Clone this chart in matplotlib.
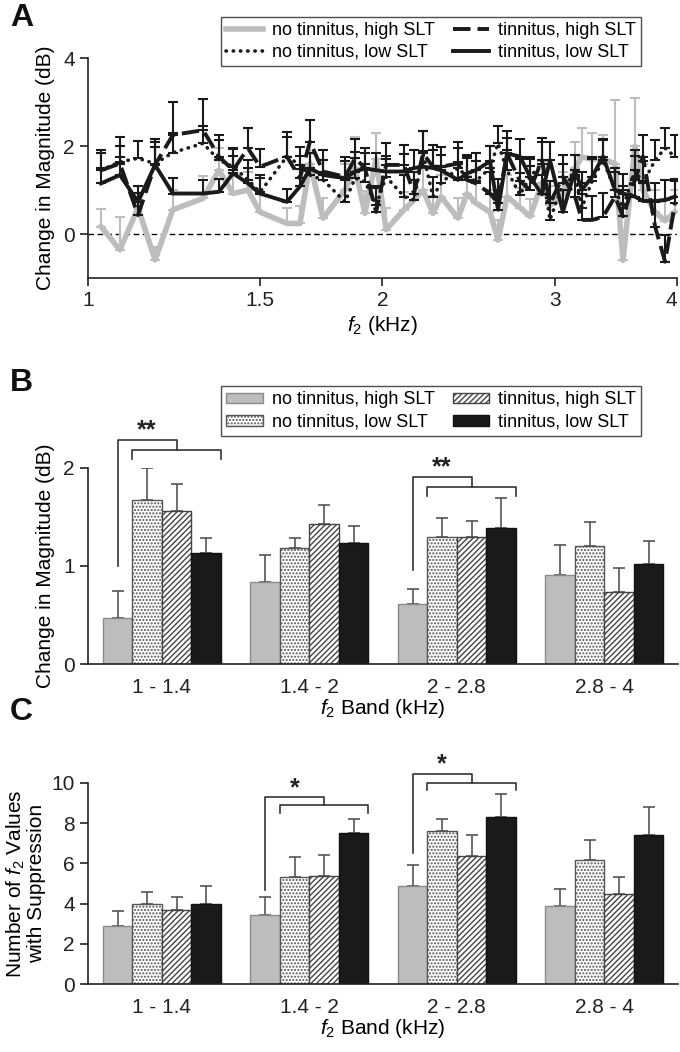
import numpy as np
import matplotlib
matplotlib.use("Agg")
import matplotlib.pyplot as plt
from matplotlib.patches import Patch
from matplotlib.lines import Line2D

plt.rcParams['font.family'] = ['Liberation Sans', 'DejaVu Sans']
plt.rcParams['mathtext.fontset'] = 'custom'
plt.rcParams['mathtext.rm'] = 'Liberation Sans'
plt.rcParams['mathtext.it'] = 'Liberation Sans:italic'
plt.rcParams['hatch.linewidth'] = 1.0

# ---------------- Panel A data ----------------
f2_khz = [1.031, 1.078, 1.125, 1.171, 1.221, 1.311, 1.361, 1.407, 1.457, 1.499,
          1.597, 1.647, 1.686, 1.739, 1.831, 1.875, 1.919, 1.970, 2.017, 2.104,
          2.154, 2.200, 2.252, 2.295, 2.389, 2.440, 2.492, 2.576, 2.625, 2.681,
          2.764, 2.830, 2.911, 2.966, 3.058, 3.146, 3.198, 3.275, 3.361, 3.457,
          3.523, 3.623, 3.692, 3.799, 3.889, 3.981]

nt_high = [0.17, -0.36, 0.6, -0.59, 0.55, 0.81, 1.45, 0.92, 1.0, 0.5,
           0.24, 0.24, 1.6, 0.36, 1.0, 1.5, 0.47, 1.7, 0.1, 0.55,
           0.77, 1.0, 0.47, 0.85, 0.36, 0.92, 0.7, 0.5, -0.14, 0.85,
           0.6, 0.4, 1.15, 0.65, 0.9, 1.5, 1.75, 1.7, 1.7, 1.6,
           -0.6, 2.0, 1.0, 0.5, 0.3, 0.5]
nt_high_err = [0.4, 0.75, 0.5, 0.3, 0.45, 0.5, 0.5, 0.45, 0.4, 0.45,
               0.35, 0.4, 1.0, 0.45, 0.6, 0.7, 0.5, 0.6, 0.5, 0.4,
               0.45, 0.5, 0.4, 0.5, 0.45, 0.4, 0.5, 0.5, 0.45, 0.5,
               0.45, 0.4, 0.5, 0.45, 0.5, 0.6, 0.65, 0.6, 0.55, 1.45,
               0.5, 1.1, 0.6, 0.5, 0.5, 0.5]

nt_low = [1.45, 1.64, 1.72, 1.6, 1.85, 2.06, 1.68, 1.53, 1.23, 0.95,
          1.76, 1.57, 1.34, 1.23, 0.73, 1.27, 1.19, 0.65, 1.3, 0.85,
          0.77, 1.83, 0.85, 1.15, 1.5, 1.3, 1.2, 1.5, 2.06, 1.45,
          0.89, 1.3, 1.6, 0.32, 1.15, 1.3, 0.6, 1.2, 1.68, 1.0,
          0.6, 1.45, 1.15, 1.68, 1.95, 1.76]
nt_low_err = [0.4, 0.35, 0.4, 0.5, 0.45, 0.4, 0.45, 0.4, 0.45, 0.4,
              0.45, 0.4, 0.5, 0.45, 0.5, 0.45, 0.4, 0.45, 0.4, 0.5,
              0.45, 0.5, 0.45, 0.4, 0.45, 0.5, 0.45, 0.5, 0.4, 0.45,
              0.5, 0.45, 0.5, 0.5, 0.45, 0.5, 0.55, 0.5, 0.45, 0.5,
              0.5, 0.45, 0.5, 0.45, 0.45, 0.5]

t_high = [1.45, 1.6, 0.43, 1.57, 2.25, 2.36, 1.76, 1.45, 1.95, 1.53,
          1.76, 1.27, 2.1, 1.42, 1.3, 1.72, 1.5, 0.5, 1.57, 1.57,
          0.92, 1.83, 1.53, 1.53, 1.6, 1.23, 1.15, 0.92, 0.7, 1.83,
          1.2, 1.0, 1.68, 0.7, 1.3, 0.85, 0.32, 0.32, 0.39, 0.85,
          0.4, 1.23, 1.76, 0.17, -0.63, 0.7]
t_high_err = [0.45, 0.6, 0.5, 0.6, 0.75, 0.7, 0.5, 0.5, 0.45, 0.4,
              0.55, 0.5, 0.5, 0.5, 0.45, 0.45, 0.45, 0.55, 0.5, 0.45,
              0.5, 0.5, 0.5, 0.45, 0.5, 0.55, 0.5, 0.5, 0.55, 0.5,
              0.5, 0.55, 0.5, 0.5, 0.5, 0.5, 0.6, 0.55, 0.55, 0.55,
              0.6, 0.55, 0.5, 0.55, 0.6, 0.5]

t_low = [1.15, 1.34, 0.73, 1.57, 0.92, 0.92, 0.96, 1.38, 1.15, 0.92,
         0.73, 1.08, 1.49, 1.34, 1.27, 1.42, 1.49, 1.45, 1.42, 1.42,
         1.5, 1.53, 1.5, 1.45, 1.23, 1.38, 1.45, 1.65, 0.55, 1.83,
         1.76, 1.3, 0.9, 1.68, 0.5, 1.45, 1.0, 1.3, 1.76, 1.0,
         0.92, 0.85, 0.75, 0.75, 0.77, 0.85]
t_low_err = [0.35, 0.4, 0.35, 0.4, 0.35, 0.3, 0.3, 0.4, 0.35, 0.35,
             0.3, 0.4, 0.35, 0.35, 0.4, 0.45, 0.35, 0.4, 0.35, 0.4,
             0.4, 0.35, 0.4, 0.35, 0.4, 0.35, 0.4, 0.35, 0.45, 0.35,
             0.4, 0.4, 0.45, 0.4, 0.5, 0.35, 0.4, 0.45, 0.4, 0.5,
             0.45, 0.4, 0.45, 0.4, 0.45, 0.4]

a_xticks = [1, 1.5, 2, 3, 4]
a_xticklabels = ['1', '1.5', '2', '3', '4']

# ---------------- Panel B / C data ----------------
bands = ['1 - 1.4', '1.4 - 2', '2 - 2.8', '2.8 - 4']
group_labels = ['no tinnitus, high SLT', 'no tinnitus, low SLT',
                'tinnitus, high SLT', 'tinnitus, low SLT']

b_nt_high = [0.47, 0.84, 0.61, 0.91]
b_nt_high_err = [0.28, 0.27, 0.16, 0.30]
b_nt_low = [1.675, 1.18, 1.30, 1.20]
b_nt_low_err = [0.32, 0.11, 0.19, 0.25]
b_t_high = [1.56, 1.43, 1.30, 0.73]
b_t_high_err = [0.28, 0.19, 0.16, 0.25]
b_t_low = [1.13, 1.23, 1.39, 1.02]
b_t_low_err = [0.16, 0.18, 0.30, 0.24]

c_nt_high = [2.89, 3.43, 4.88, 3.88]
c_nt_high_err = [0.74, 0.90, 1.04, 0.85]
c_nt_low = [3.98, 5.32, 7.61, 6.17]
c_nt_low_err = [0.60, 1.00, 0.60, 0.99]
c_t_high = [3.68, 5.37, 6.37, 4.48]
c_t_high_err = [0.65, 1.05, 1.04, 0.84]
c_t_low = [3.98, 7.51, 8.31, 7.41]
c_t_low_err = [0.90, 0.70, 1.14, 1.40]

W, H = 680, 1052
fig = plt.figure(figsize=(W / 100, H / 100), dpi=100)


def ax_rect(left, top, right, bottom):
    return [left / W, 1 - bottom / H, (right - left) / W, (bottom - top) / H]


FS_TICK = 15
FS_LAB = 15
FS_LEG = 13
EDGE = '#3a3a3a'


def style_axes(ax):
    ax.spines['top'].set_visible(False)
    ax.spines['right'].set_visible(False)
    for s in ('left', 'bottom'):
        ax.spines[s].set_linewidth(1.2)
        ax.spines[s].set_color('#222222')
    ax.tick_params(direction='out', length=6, width=1.2, labelsize=FS_TICK,
                   colors='#222222', labelcolor='#222222')


# ================= Panel A =================
axA = fig.add_axes(ax_rect(88, 58, 677, 278))
style_axes(axA)
axA.set_xscale('log')
axA.set_xlim(1, 4)
axA.set_ylim(-1, 4)
axA.set_xticks(a_xticks)
axA.set_xticklabels(a_xticklabels)
axA.xaxis.set_minor_locator(matplotlib.ticker.NullLocator())
axA.get_xticklabels()[-1].set_horizontalalignment('right')
axA.set_yticks([0, 2, 4])
axA.axhline(0, color='black', lw=1.0, ls=(0, (4, 2.5)), zorder=1)

f = np.array(f2_khz)
series = [
    (nt_high, nt_high_err, dict(color='#bdbdbd', lw=4.0, ls='-'), '#bdbdbd', 2),
    (nt_low, nt_low_err, dict(color='#1a1a1a', lw=2.6, ls=(0, (0.1, 1.9)),
                              dash_capstyle='round'), '#1a1a1a', 3),
    (t_high, t_high_err, dict(color='#1a1a1a', lw=2.8, ls=(0, (4.5, 1.8))), '#1a1a1a', 4),
    (t_low, t_low_err, dict(color='#1a1a1a', lw=2.8, ls='-'), '#1a1a1a', 5),
]
for vals, errs, kw, ecol, z in series:
    v = np.array(vals)
    e = np.array(errs)
    axA.errorbar(f, v, yerr=[np.zeros_like(e), e], fmt='none', ecolor=ecol,
                 elinewidth=1.5, capsize=3.5, capthick=1.5, zorder=z)
    axA.plot(f, v, zorder=z + 0.5, **kw)

axA.set_xlabel('$f_2$ (kHz)', fontsize=FS_LAB, labelpad=3)
axA.set_ylabel('Change in Magnitude (dB)', fontsize=FS_LAB, labelpad=6)

legA_handles = [
    Line2D([], [], color='#bdbdbd', lw=4.0),
    Line2D([], [], color='#1a1a1a', lw=2.6, ls=(0, (0.1, 1.9)), dash_capstyle='round'),
    Line2D([], [], color='#1a1a1a', lw=2.8, ls=(0, (4.5, 1.8))),
    Line2D([], [], color='#1a1a1a', lw=2.8),
]
legA = axA.legend(legA_handles, group_labels, ncol=2, loc='upper right',
                  bbox_to_anchor=(641 / W, 1 - 17 / H), bbox_transform=fig.transFigure,
                  fontsize=FS_LEG, frameon=True, fancybox=False, handlelength=2.0,
                  columnspacing=1.0, handletextpad=0.5, borderpad=0.3,
                  labelspacing=0.25, borderaxespad=0)
legA.get_frame().set_edgecolor('#222222')
legA.get_frame().set_linewidth(1.0)

# ================= Bar panels =================
bar_styles = [
    dict(facecolor='#bdbdbd', edgecolor='#8a8a8a', hatch=None),
    dict(facecolor='white', edgecolor='#555555', hatch='.....'),
    dict(facecolor='white', edgecolor='#444444', hatch='//////'),
    dict(facecolor='#1a1a1a', edgecolor='#111111', hatch=None),
]
offsets = [-0.3, -0.1, 0.1, 0.3]
bw = 0.2


def draw_bars(ax, data, errs):
    x = np.arange(len(bands))
    handles = []
    for k in range(4):
        st = bar_styles[k]
        bars = ax.bar(x + offsets[k], data[k], width=bw, facecolor=st['facecolor'],
                      edgecolor=st['edgecolor'], hatch=st['hatch'], linewidth=1.0,
                      zorder=2)
        ax.errorbar(x + offsets[k], data[k], yerr=[np.zeros(4), np.array(errs[k])],
                    fmt='none', ecolor='#555555', elinewidth=1.2, capsize=4,
                    capthick=1.2, zorder=1)
        handles.append(bars)
    ax.set_xlim(-0.5, 3.5)
    ax.set_xticks(x)
    ax.set_xticklabels(bands)
    ax.tick_params(axis='x', length=0, pad=10)
    return handles


def bracket(ax, xg, y_left_bottom, y_top, y_low, y_tick, star):
    kw = dict(color='#333333', lw=1.2, clip_on=False, zorder=5)
    ax.plot([xg - 0.3, xg - 0.3, xg + 0.1, xg + 0.1],
            [y_left_bottom, y_top, y_top, y_low], **kw)
    ax.plot([xg - 0.2, xg - 0.2, xg + 0.4, xg + 0.4],
            [y_tick, y_low, y_low, y_tick], **kw)
    ax.annotate(star, xy=(xg - 0.1, y_top), xytext=(0, -2), textcoords='offset points',
                ha='center', va='bottom', fontsize=18, fontweight='bold',
                annotation_clip=False, color='#222222')


# ---------- Panel B ----------
axB = fig.add_axes(ax_rect(88, 468, 678, 664))
style_axes(axB)
hB = draw_bars(axB, [b_nt_high, b_nt_low, b_t_high, b_t_low],
               [b_nt_high_err, b_nt_low_err, b_t_high_err, b_t_low_err])
axB.set_ylim(0, 2)
axB.set_yticks([0, 1, 2])
axB.set_xlabel('$f_2$ Band (kHz)', fontsize=FS_LAB, labelpad=0)
axB.set_ylabel('Change in Magnitude (dB)', fontsize=FS_LAB, labelpad=6)
bracket(axB, 0, 1.0, 2.29, 2.18, 2.09, '**')
bracket(axB, 2, 0.96, 1.91, 1.81, 1.71, '**')

legB_handles = [Patch(facecolor=s['facecolor'], edgecolor=s['edgecolor'],
                      hatch=s['hatch'], linewidth=1.0) for s in bar_styles]
legB = axB.legend(legB_handles, group_labels, ncol=2, loc='upper right',
                  bbox_to_anchor=(641 / W, 1 - 386 / H), bbox_transform=fig.transFigure,
                  fontsize=FS_LEG, frameon=True, fancybox=False, handlelength=2.0,
                  handleheight=0.5, columnspacing=1.0, handletextpad=0.5,
                  borderpad=0.3, labelspacing=0.3, borderaxespad=0)
legB.get_frame().set_edgecolor('#222222')
legB.get_frame().set_linewidth(1.0)

# ---------- Panel C ----------
axC = fig.add_axes(ax_rect(88, 783, 678, 984))
style_axes(axC)
draw_bars(axC, [c_nt_high, c_nt_low, c_t_high, c_t_low],
          [c_nt_high_err, c_nt_low_err, c_t_high_err, c_t_low_err])
axC.set_ylim(0, 10)
axC.set_yticks([0, 2, 4, 6, 8, 10])
axC.set_xlabel('$f_2$ Band (kHz)', fontsize=FS_LAB, labelpad=0)
axC.set_ylabel('Number of $f_2$ Values\nwith Suppression', fontsize=FS_LAB,
               labelpad=4, linespacing=1.0)
bracket(axC, 1, 4.68, 9.3, 8.9, 8.5, '*')
bracket(axC, 2, 6.5, 10.45, 10.0, 9.65, '*')

# panel letters
for letter, y in [('A', 18), ('B', 383), ('C', 712)]:
    fig.text(10 / W, 1 - y / H, letter, fontsize=23, fontweight='bold',
             ha='left', va='center', color='#111111')

fig.savefig('out.png', dpi=100)
